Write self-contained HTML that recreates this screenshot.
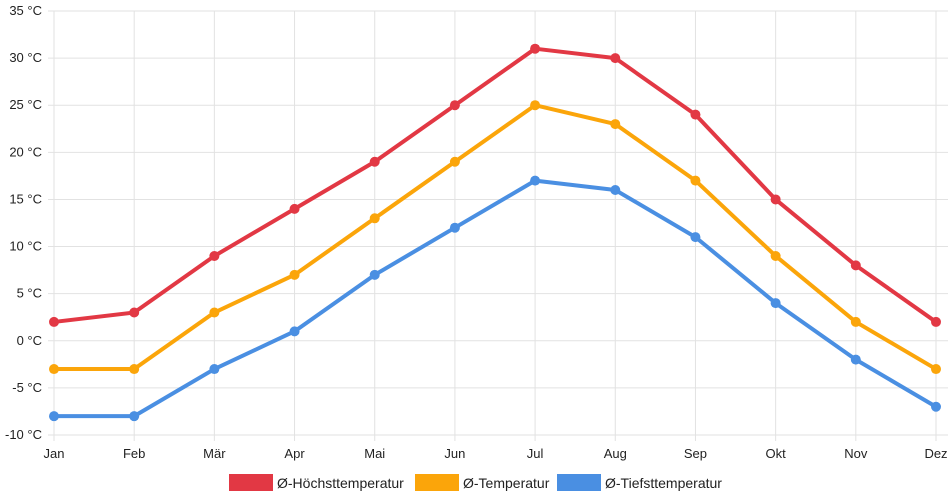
<!DOCTYPE html>
<html><head><meta charset="utf-8"><style>
body{margin:0;background:#fff;font-family:"Liberation Sans",sans-serif}
svg{display:block}
</style></head><body>
<svg id="chart" width="952" height="500" xmlns="http://www.w3.org/2000/svg" font-family="Liberation Sans, sans-serif"></svg>
<script>
const categories=["Jan","Feb","Mär","Apr","Mai","Jun","Jul","Aug","Sep","Okt","Nov","Dez"];
const highValues=[2,3,9,14,19,25,31,30,24,15,8,2];
const meanValues=[-3,-3,3,7,13,19,25,23,17,9,2,-3];
const lowValues=[-8,-8,-3,1,7,12,17,16,11,4,-2,-7];
const yTicks=[-10,-5,0,5,10,15,20,25,30,35];
const seriesNames=["Ø-Höchsttemperatur","Ø-Temperatur","Ø-Tiefsttemperatur"];
const svg=document.getElementById('chart');
const NS="http://www.w3.org/2000/svg";
const x0=54,x1=936,yTop=11,yBot=435,yMin=-10,yMax=35;
const xs=i=>x0+(x1-x0)*i/(categories.length-1);
const ys=v=>yBot-(v-yMin)/(yMax-yMin)*(yBot-yTop);
function mk(t,a,p){const e=document.createElementNS(NS,t);for(const k in a)e.setAttribute(k,a[k]);(p||svg).appendChild(e);return e;}
const grid=mk('g',{});


yTicks.forEach(v=>{
  const l=mk('line',{x1:x0-6,x2:x1+12,y1:ys(v),y2:ys(v),stroke:'#e2e2e2','stroke-width':1},grid);
  
  
  const t=mk('text',{x:42,y:ys(v)+4,'text-anchor':'end','font-size':13,fill:'#222'});
  t.textContent=v+' °C';
  
  
});
categories.forEach((c,i)=>{
  const l=mk('line',{x1:xs(i),x2:xs(i),y1:yTop,y2:yBot+6,stroke:'#e2e2e2','stroke-width':1},grid);
  
  
  const t=mk('text',{x:xs(i),y:458,'text-anchor':'middle','font-size':13,fill:'#222'});
  t.textContent=c;
  
  
});
const series=[[highValues,'#e23844'],[meanValues,'#fba50a'],[lowValues,'#4a8fe2']];
series.forEach(([vals,col],si)=>{
  const g=mk('g',{});
  
  
  const p=mk('polyline',{points:vals.map((v,i)=>xs(i)+','+ys(v)).join(' '),fill:'none',stroke:col,'stroke-width':4,'stroke-linejoin':'round'},g);
  
  
  vals.forEach((v,i)=>{
    const c=mk('circle',{cx:xs(i),cy:ys(v),r:5,fill:col},g);
    
    
  });
});
const legX=[229,415,557];
series.forEach(([v,col],si)=>{
  const g=mk('g',{});
  
  
  mk('rect',{x:legX[si],y:474,width:44,height:17,fill:col},g);
  const t=mk('text',{x:legX[si]+48,y:488,'font-size':14,fill:'#222'},g);
  t.textContent=seriesNames[si];
});
</script>
</body></html>
